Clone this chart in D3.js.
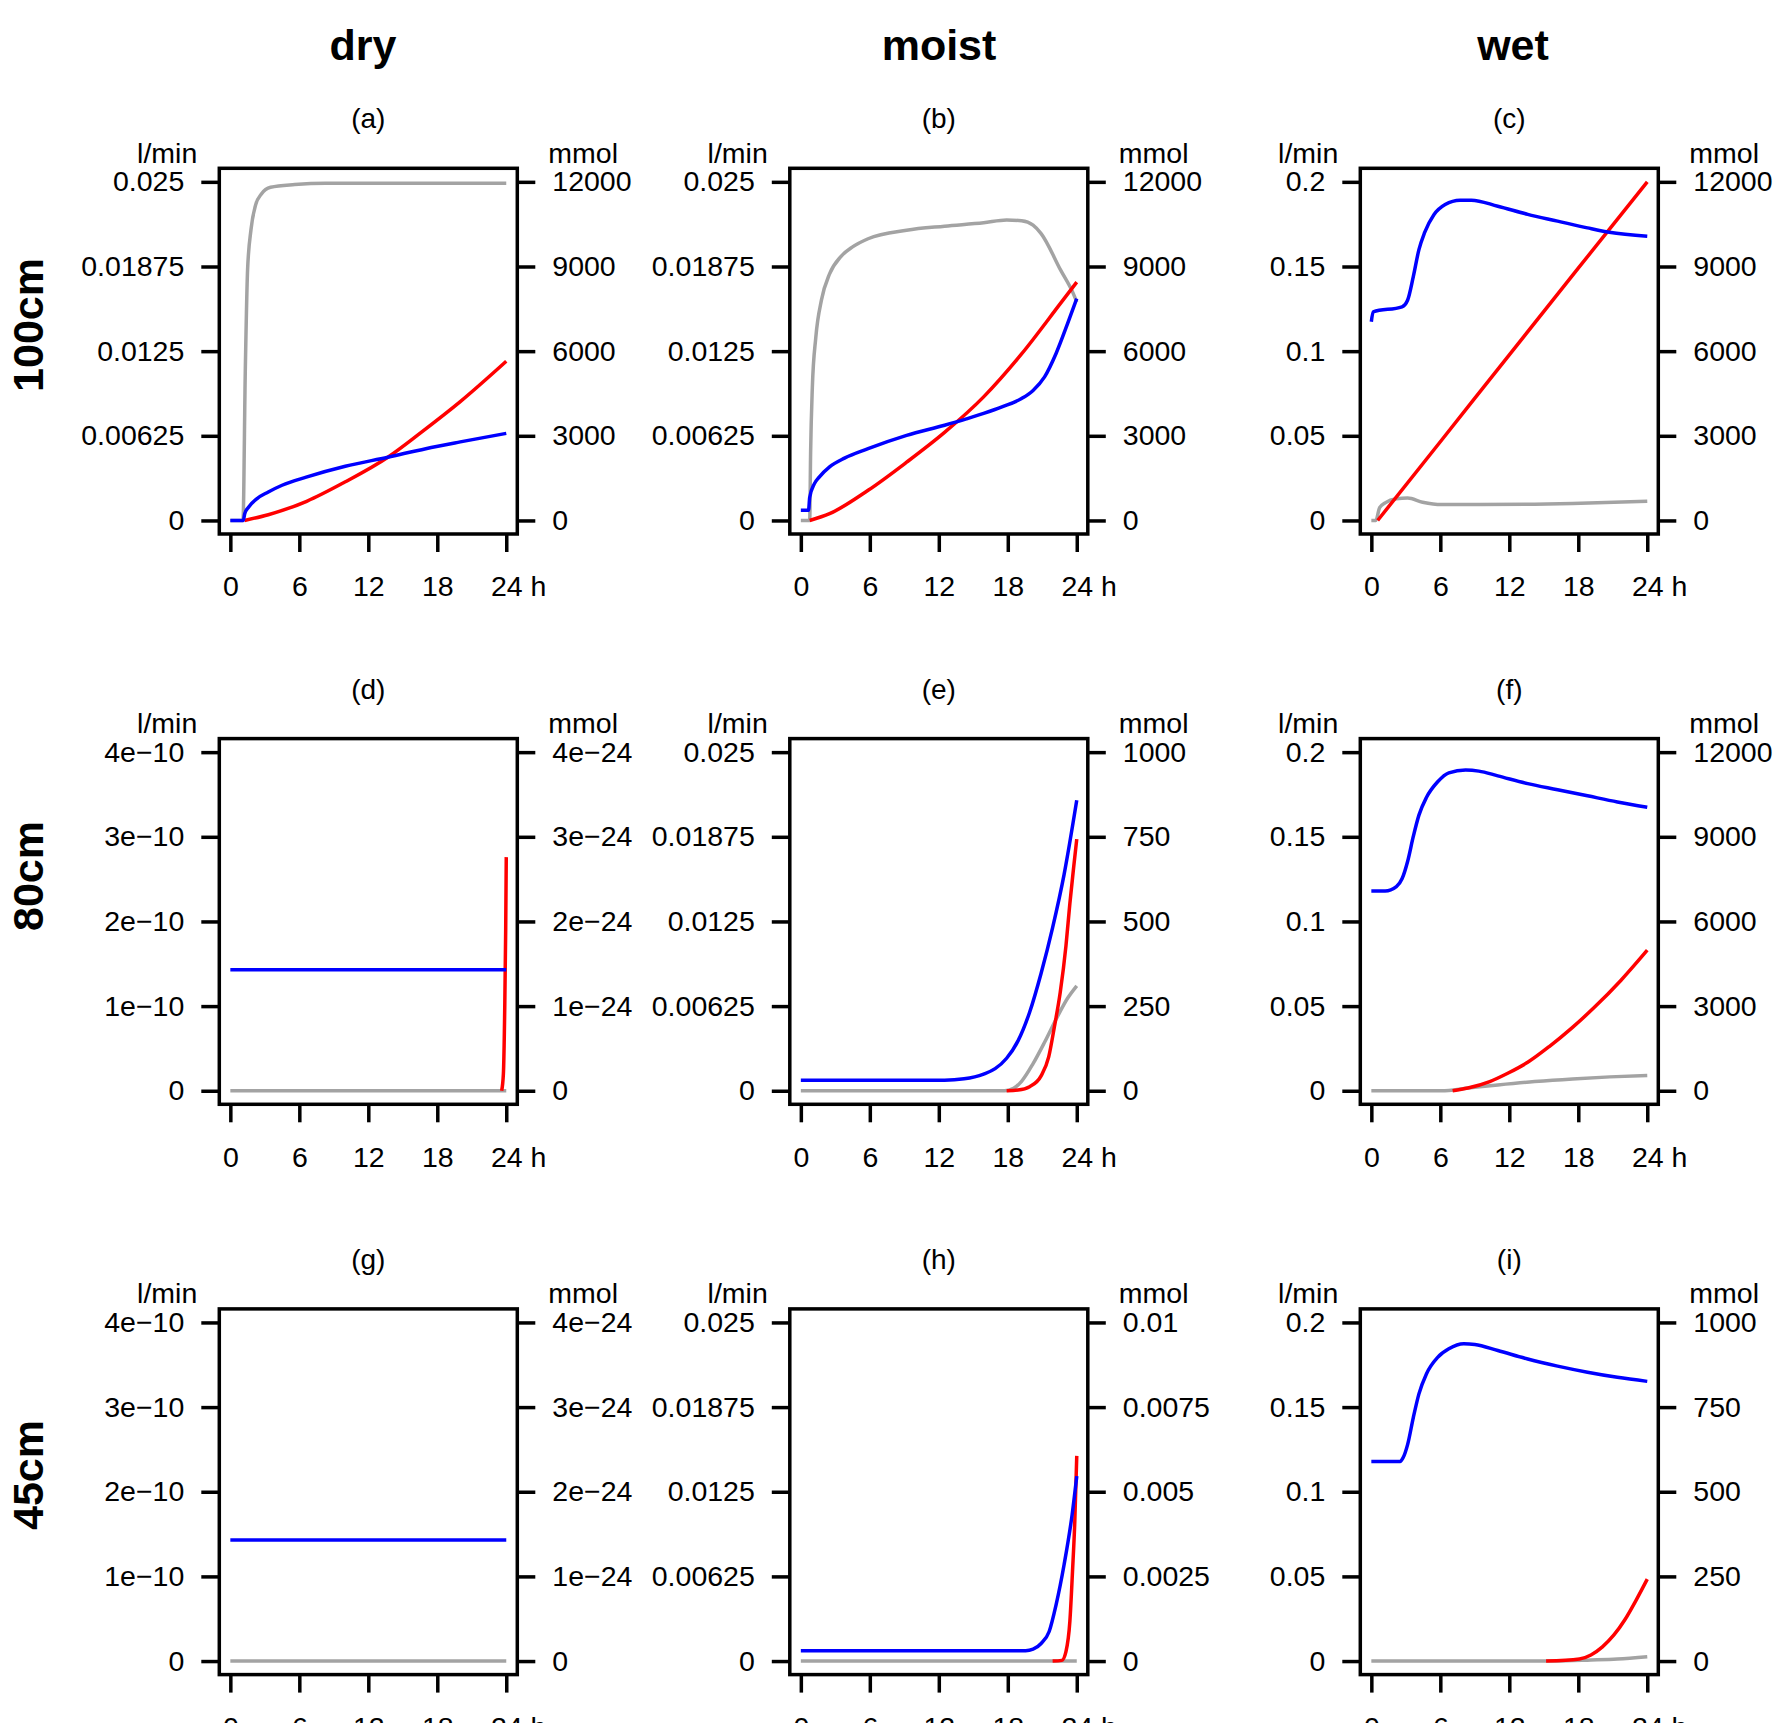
<!DOCTYPE html>
<html>
<head>
<meta charset="utf-8">
<script src="https://cdn.jsdelivr.net/npm/d3@7"></script>
<style>
  body { margin: 0; background: #fff; }
  svg { display: block; }
</style>
</head>
<body>
<div id="chart"></div>
<script>
// categories
var columnTitles = ["dry", "moist", "wet"];
var rowLabels = ["100cm", "80cm", "45cm"];
var panelLetters = ["a", "b", "c", "d", "e", "f", "g", "h", "i"];
var hours = [0, 6, 12, 18, 24];

// axis ticks (left = l/min, right = mmol)
var flowTicksSmall = [0, 0.00625, 0.0125, 0.01875, 0.025];
var flowTicksWet = [0, 0.05, 0.1, 0.15, 0.2];
var flowTicksDry = [0, 1e-10, 2e-10, 3e-10, 4e-10];
var molTicks12000 = [0, 3000, 6000, 9000, 12000];
var molTicks1000 = [0, 250, 500, 750, 1000];
var molTicksDry = [0, 1e-24, 2e-24, 3e-24, 4e-24];
var molTicksTiny = [0, 0.0025, 0.005, 0.0075, 0.01];

// series: [hour, value]; gray and blue in l/min, red in mmol
var aGray = [[0,0],[1.1,0],[1.3,0.011],[1.5,0.0185],[1.8,0.0215],[2.2,0.0233],[2.7,0.0241],[3.5,0.0246],[5.6,0.0248],[8.3,0.0249],[24,0.0249]];
var aRed = [[1.23,0],[3.3,204],[6.64,680],[9.96,1360],[13.7,2240],[16.6,3120],[20,4210],[24,5640]];
var aBlue = [[0,0],[1.13,0],[1.25,0.0005],[1.6,0.001],[2.3,0.0016],[3.3,0.0021],[4.5,0.0026],[6.6,0.0032],[10,0.004],[13.7,0.00467],[17,0.0053],[20,0.0058],[24,0.00643]];

var bGray = [[0,0],[0.77,0],[0.85,0.005],[1,0.0098],[1.3,0.0135],[1.8,0.0163],[2.5,0.0182],[3.5,0.0195],[4.5,0.0202],[5.85,0.0208],[9.2,0.02143],[12.5,0.02173],[15.9,0.02198],[17.9,0.02218],[19.2,0.02213],[20.2,0.0218],[20.9,0.02118],[22.6,0.01848],[23.7,0.01675],[24,0.01613]];
var bRed = [[0.77,0],[2.5,240],[5.85,1068],[9.2,2064],[12.5,3120],[15.9,4380],[19.2,5900],[22.6,7700],[24,8448]];
var bBlue = [[0,0.00075],[0.67,0.00075],[0.77,0.0017],[1.17,0.0027],[1.6,0.0032],[2.5,0.00395],[3.8,0.0046],[5.85,0.0053],[9.2,0.00628],[12.5,0.00703],[14.4,0.0075],[15.9,0.0079],[17.55,0.0084],[19.2,0.009],[20.2,0.0096],[21.2,0.0106],[22.2,0.01233],[23.2,0.01453],[24,0.01638]];

var cGray = [[0,0],[0.39,0],[0.72,0.0076],[1.2,0.0104],[2.18,0.0128],[3.16,0.0132],[4.46,0.0108],[6.1,0.0094],[9.35,0.0094],[14.2,0.0096],[17.5,0.01],[24,0.0114]];
var cRed = [[0.55,0],[6,2790],[12,5870],[18,8940],[24,12000]];
var cBlue = [[0,0.1174],[0.16,0.1232],[2.67,0.1262],[3.16,0.1302],[3.65,0.144],[4.14,0.16],[4.63,0.17],[5.44,0.1806],[6.42,0.1866],[7.72,0.1892],[8.7,0.1892],[11,0.1856],[13.6,0.1808],[16.2,0.1768],[18.8,0.1728],[20.7,0.1702],[24,0.1678]];

var dGray = [[0,0],[24,0]];
var dRed = [[23.6,0],[23.75,0.2e-24],[23.87,1.0e-24],[23.95,1.9e-24],[24,2.76e-24]];
var dBlue = [[0,1.43e-10],[24,1.43e-10]];

var eGray = [[0,0],[17.7,0],[18.5,0.000175],[19.2,0.0007],[20.2,0.002],[21.2,0.00358],[22.2,0.00528],[23.2,0.00683],[24,0.00775]];
var eRed = [[17.9,0],[18.9,2],[19.9,12],[20.9,44],[21.56,100],[22.06,190],[22.56,290],[23.06,428],[23.4,553],[23.73,660],[24,743]];
var eBlue = [[0,0.00078],[12.5,0.00078],[14.2,0.00088],[15.9,0.00123],[16.9,0.00163],[17.9,0.0024],[18.9,0.0037],[19.9,0.0058],[20.9,0.00868],[21.9,0.01205],[22.9,0.01598],[24,0.02145]];

var fGray = [[0,0],[6.1,0],[8.4,0.0016],[11,0.0034],[14.2,0.0054],[17.5,0.007],[20.75,0.0082],[24,0.009]];
var fRed = [[7.07,0],[8.4,96],[10.3,324],[11.95,636],[13.6,1008],[15.5,1575],[17.5,2247],[19.4,2956],[21.7,3908],[24,4980]];
var fBlue = [[0,0.118],[1.2,0.118],[2.18,0.1206],[2.67,0.1252],[3.16,0.1356],[3.65,0.1502],[4.14,0.1628],[4.79,0.1732],[5.77,0.1825],[6.74,0.1878],[8.2,0.1894],[9.35,0.1888],[11,0.186],[13.6,0.1814],[16.2,0.1778],[18.8,0.1742],[21.4,0.1706],[24,0.1675]];

var gGray = [[0,0],[24,0]];
var gRed = [];
var gBlue = [[0,1.43e-10],[24,1.43e-10]];

var hGray = [[0,0],[24,0]];
var hRed = [[21.9,0],[22.7,0.00002],[23.06,0.00028],[23.4,0.00117],[23.63,0.00265],[23.83,0.00413],[24,0.00606]];
var hBlue = [[0,0.000765],[19.55,0.000765],[20.2,0.000875],[20.9,0.0013],[21.6,0.00218],[22.2,0.00415],[22.9,0.00713],[23.6,0.01083],[24,0.01365]];

var iGray = [[0,0],[15.9,0],[19.1,0.0006],[21.4,0.0012],[24,0.0026]];
var iRed = [[15.2,0],[18.1,6],[19.1,18],[20.1,42],[21.1,77],[22.05,122],[23,178],[24,242]];
var iBlue = [[0,0.1178],[2.5,0.1178],[2.77,0.1202],[3.16,0.128],[3.65,0.1438],[4.14,0.1578],[4.79,0.1696],[5.77,0.1794],[6.74,0.1844],[8.04,0.1874],[9,0.187],[11,0.1834],[13.6,0.1784],[16.2,0.1742],[18.8,0.1706],[21.4,0.1676],[24,0.1652]];

var panels = [
    { left: flowTicksSmall, right: molTicks12000, gray: aGray, red: aRed, blue: aBlue },
    { left: flowTicksSmall, right: molTicks12000, gray: bGray, red: bRed, blue: bBlue },
    { left: flowTicksWet, right: molTicks12000, gray: cGray, red: cRed, blue: cBlue },
    { left: flowTicksDry, right: molTicksDry, gray: dGray, red: dRed, blue: dBlue },
    { left: flowTicksSmall, right: molTicks1000, gray: eGray, red: eRed, blue: eBlue },
    { left: flowTicksWet, right: molTicks12000, gray: fGray, red: fRed, blue: fBlue },
    { left: flowTicksDry, right: molTicksDry, gray: gGray, red: gRed, blue: gBlue },
    { left: flowTicksSmall, right: molTicksTiny, gray: hGray, red: hRed, blue: hBlue },
    { left: flowTicksWet, right: molTicks1000, gray: iGray, red: iRed, blue: iBlue }
];

var W = 1782, H = 1723;
var FONT = "'Liberation Sans', Arial, Helvetica, sans-serif";
var boxLeft0 = 219.3, colStep = 570.5, boxW = 298;
var boxTop0 = 168.3, rowStep = 570.3, boxH = 365.7;
var titleX = [363, 939, 1513];
var rowLabelY = [325, 876, 1475];
var fs = 28.5;

var svg = d3.select("#chart").append("svg")
    .attr("width", W)
    .attr("height", H);

svg.append("rect").attr("width", W).attr("height", H).attr("fill", "#fff");

function fmt(v) {
    if (v === 0) return "0";
    if (Math.abs(v) < 1e-6) return v.toExponential().replace("-", "\u2212");
    return String(v);
}

// column titles
columnTitles.forEach(function (t, j) {
    svg.append("text")
        .attr("x", titleX[j])
        .attr("y", 60)
        .attr("text-anchor", "middle")
        .attr("font-family", FONT)
        .attr("font-weight", "bold")
        .attr("font-size", 43)
        .text(t);
});

// row labels
rowLabels.forEach(function (t, i) {
    svg.append("text")
        .attr("transform", "translate(43," + rowLabelY[i] + ") rotate(-90)")
        .attr("text-anchor", "middle")
        .attr("font-family", FONT)
        .attr("font-weight", "bold")
        .attr("font-size", 43)
        .text(t);
});

function styleAxis(g) {
    g.attr("font-family", FONT).attr("font-size", fs);
    g.select(".domain").remove();
    g.selectAll(".tick line").attr("stroke", "#000").attr("stroke-width", 3.5);
    g.selectAll(".tick text").attr("fill", "#000");
}

panels.forEach(function (p, k) {
    var row = Math.floor(k / 3), col = k % 3;
    var x0 = boxLeft0 + col * colStep, y0 = boxTop0 + row * rowStep;
    var g = svg.append("g").attr("transform", "translate(" + x0 + "," + y0 + ")");

    var x = d3.scaleLinear().domain([-0.96, 24.96]).range([0, boxW]);
    var lmax = d3.max(p.left), rmax = d3.max(p.right);
    var yl = d3.scaleLinear().domain([-0.04 * lmax, 1.04 * lmax]).range([boxH, 0]);
    var yr = d3.scaleLinear().domain([-0.04 * rmax, 1.04 * rmax]).range([boxH, 0]);

    var lineL = d3.line().x(d => x(d[0])).y(d => yl(d[1])).curve(d3.curveMonotoneX);
    var lineR = d3.line().x(d => x(d[0])).y(d => yr(d[1])).curve(d3.curveMonotoneX);

    var lines = g.append("g")
        .attr("fill", "none")
        .attr("stroke-width", 3.5)
        .attr("stroke-linejoin", "round");
    lines.append("path").datum(p.gray).attr("d", lineL).attr("stroke", "#a3a3a3");
    if (p.red.length)
        lines.append("path").datum(p.red).attr("d", lineR).attr("stroke", "#ff0000");
    lines.append("path").datum(p.blue).attr("d", lineL).attr("stroke", "#0000ff");

    // box
    g.append("rect")
        .attr("width", boxW)
        .attr("height", boxH)
        .attr("fill", "none")
        .attr("stroke", "#000")
        .attr("stroke-width", 3.5);

    // left axis
    g.append("g")
        .call(d3.axisLeft(yl).tickValues(p.left).tickSize(18).tickPadding(17).tickFormat(fmt))
        .call(styleAxis);

    // right axis
    g.append("g")
        .attr("transform", "translate(" + boxW + ",0)")
        .call(d3.axisRight(yr).tickValues(p.right).tickSize(18).tickPadding(17).tickFormat(fmt))
        .call(styleAxis);

    // bottom axis
    var gx = g.append("g")
        .attr("transform", "translate(0," + boxH + ")")
        .call(d3.axisBottom(x).tickValues(hours).tickSize(18).tickPadding(24).tickFormat(d3.format("d")))
        .call(styleAxis);
    var last = gx.selectAll(".tick text").filter(d => d === 24);
    var w24 = last.node().getComputedTextLength();
    last.attr("text-anchor", "start").attr("x", -w24 / 2).text("24 h");

    // units
    g.append("text")
        .attr("x", -22).attr("y", -5.6)
        .attr("text-anchor", "end")
        .attr("font-family", FONT).attr("font-size", fs)
        .text("l/min");
    g.append("text")
        .attr("x", boxW + 31).attr("y", -5.6)
        .attr("text-anchor", "start")
        .attr("font-family", FONT).attr("font-size", fs)
        .text("mmol");

    // panel letter
    g.append("text")
        .attr("x", boxW / 2).attr("y", -40)
        .attr("text-anchor", "middle")
        .attr("font-family", FONT).attr("font-size", 28)
        .text("(" + panelLetters[k] + ")");
});
</script>
</body>
</html>
